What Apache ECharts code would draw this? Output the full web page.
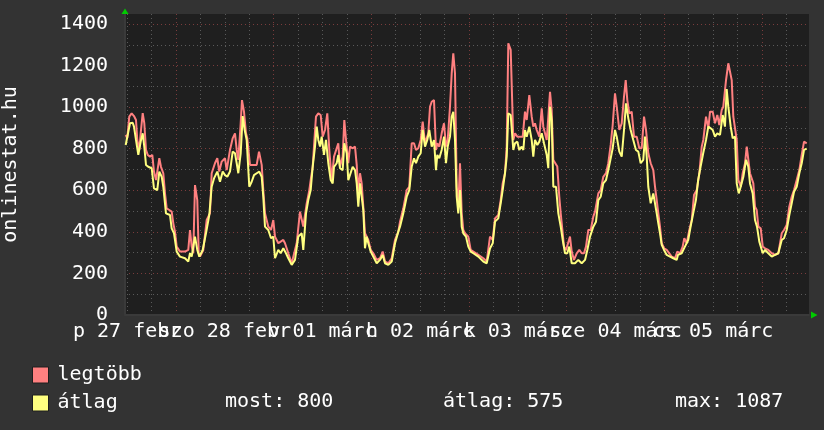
<!DOCTYPE html>
<html><head><meta charset="utf-8">
<script src="https://cdn.jsdelivr.net/npm/echarts@6/dist/echarts.min.js"></script>
<style>html,body{margin:0;padding:0;background:#333333;}#c{width:824px;height:430px;}</style>
</head><body><div id="c"></div>
<script>
// x values are hours since 2009-02-27 00:00
const dayLabels = ['p 27 febr','szo 28 febr','v 01 márc','h 02 márc','k 03 márc','sze 04 márc','cs 05 márc'];
const dayLabelHours = [12,36,60,84,108,132,156];
const minorGridHours = [12,18,24,30,36,42,48,54,60,66,72,78,84,90,96,102,108,114,120,126,132,138,144,150,156,162,168,174];
const majorGridHours = [24,48,72,96,120,144,168];
const seriesNames = ['legtöbb','átlag'];
const statNames = ['most','átlag','max'];
const statValues = [800,575,1087];
const axisTitle = 'onlinestat.hu';

const legtobbPoints = [[11.64,866],[12.03,851],[12.52,954],[13.11,970],[13.68,957],[14.17,938],[14.49,842],[14.98,794],[15.33,875],[15.82,971],[16.21,923],[16.63,794],[17.05,770],[17.61,762],[18.18,770],[18.59,690],[19.09,649],[19.5,649],[19.9,754],[20.31,713],[20.88,682],[21.3,585],[21.71,513],[22.35,505],[22.94,497],[23.34,441],[23.75,401],[24.17,329],[24.98,305],[26.21,305],[27.02,313],[27.44,409],[27.86,329],[28.25,297],[28.67,625],[29.23,553],[29.58,297],[29.9,281],[30.71,313],[31.54,457],[32.36,490],[32.77,682],[33.58,730],[34.15,754],[34.64,690],[35.23,738],[36.04,754],[36.46,697],[37.27,794],[37.93,850],[38.5,874],[38.92,794],[39.31,746],[39.9,922],[40.22,1034],[40.71,978],[41.2,874],[41.52,850],[42.18,722],[43.17,722],[43.83,722],[44.4,786],[45.06,722],[45.45,601],[45.87,489],[46.68,425],[47.35,409],[47.91,457],[48.33,377],[49.14,345],[49.73,353],[50.37,361],[50.79,345],[51.6,297],[52.43,249],[53.66,345],[54.47,497],[54.89,489],[55.28,425],[56.12,537],[56.76,601],[57.1,649],[57.59,713],[57.91,810],[58.4,954],[58.97,970],[59.56,962],[60.05,858],[60.62,890],[61.18,970],[61.67,794],[62.26,649],[62.83,762],[63.32,762],[63.88,826],[64.3,713],[64.96,762],[65.36,938],[65.78,842],[66.34,730],[66.76,810],[67.42,802],[67.99,810],[68.41,722],[68.8,593],[69.22,682],[69.63,633],[70.03,521],[70.44,393],[70.86,401],[71.26,361],[71.85,313],[72.48,297],[73.32,265],[74.13,273],[74.79,305],[75.36,257],[76.17,249],[77.01,273],[77.82,361],[78.63,401],[79.05,449],[79.86,513],[80.69,601],[81.33,617],[81.92,826],[82.49,826],[82.98,794],[83.54,802],[84.13,842],[84.62,930],[85.19,826],[86.0,874],[86.42,1002],[86.84,1026],[87.4,1034],[87.89,794],[88.21,826],[88.7,810],[89.29,874],[89.86,922],[90.35,810],[90.77,842],[91.33,1002],[91.75,1162],[92.14,1259],[92.56,1162],[92.98,617],[93.37,521],[93.79,730],[94.21,489],[94.6,409],[95.02,393],[95.83,377],[96.42,313],[97.06,305],[98.29,289],[99.52,273],[100.35,257],[101.16,377],[101.83,361],[102.39,465],[103.2,481],[103.79,553],[104.28,633],[104.85,682],[105.27,810],[105.66,1307],[106.25,1275],[106.69,1275],[106.89,842],[107.31,874],[107.87,858],[108.53,858],[109.2,858],[109.76,978],[110.18,938],[110.82,1058],[111.41,954],[111.8,906],[112.22,922],[112.64,890],[113.28,858],[113.87,994],[114.26,906],[114.68,874],[115.1,842],[115.49,842],[115.91,1074],[116.32,986],[116.72,746],[117.14,738],[117.7,714],[118.19,569],[118.54,489],[119.03,393],[119.35,329],[119.84,313],[120.16,321],[120.82,377],[121.24,305],[121.8,265],[122.47,297],[123.11,313],[123.7,297],[124.26,297],[124.75,329],[125.32,409],[125.91,409],[126.55,473],[126.97,497],[127.78,585],[128.36,601],[129.0,665],[129.67,682],[130.23,730],[130.82,818],[131.31,914],[131.88,1066],[132.3,1002],[132.94,890],[133.53,922],[134.09,1050],[134.51,1130],[134.9,1034],[135.39,970],[135.98,978],[136.55,858],[137.21,858],[137.85,802],[138.44,802],[139.01,954],[139.5,890],[140.06,778],[140.65,730],[141.29,697],[141.71,617],[142.13,553],[142.52,489],[142.94,425],[143.36,345],[143.92,321],[144.58,313],[145.22,297],[145.81,281],[146.62,273],[147.19,305],[147.85,297],[148.51,329],[148.91,369],[149.5,345],[150.14,409],[150.73,457],[151.29,577],[151.96,601],[152.6,682],[153.19,810],[153.58,842],[154.24,954],[154.81,898],[155.23,978],[155.89,978],[156.45,922],[157.02,962],[157.51,914],[158.1,986],[158.49,1002],[159.16,1130],[159.72,1211],[160.14,1211],[160.56,1130],[160.95,954],[161.37,954],[161.79,842],[162.18,650],[162.77,617],[163.26,682],[163.83,730],[164.25,810],[164.64,810],[165.05,682],[165.87,633],[166.28,521],[166.7,505],[167.1,425],[167.69,417],[168.18,329],[168.74,321],[169.55,313],[170.39,297],[171.2,289],[172.01,297],[172.85,393],[173.41,409],[174.07,433],[174.71,521],[175.3,569],[175.87,601],[176.53,649],[177.17,697],[177.76,770],[178.33,834],[178.99,826]];

const atlagPoints = [[11.64,818],[12.13,813],[12.7,922],[13.36,925],[13.68,906],[14.17,842],[14.74,770],[15.33,834],[15.82,874],[16.21,810],[16.63,722],[17.19,713],[18.03,706],[18.59,609],[19.4,601],[19.9,690],[20.49,665],[20.88,617],[21.54,489],[22.53,481],[22.94,417],[23.51,393],[24.17,305],[24.98,281],[26.21,273],[27.02,257],[27.44,297],[27.86,281],[28.67,377],[29.23,313],[29.73,281],[30.56,313],[31.37,393],[32.18,481],[32.77,617],[33.34,657],[34.15,690],[34.81,641],[35.48,690],[36.04,673],[36.61,665],[37.27,690],[37.93,786],[38.5,778],[38.92,730],[39.31,682],[39.9,778],[40.39,957],[40.88,890],[41.37,842],[42.01,617],[42.6,641],[43.17,673],[43.83,682],[44.47,690],[45.06,665],[45.45,569],[45.87,425],[46.68,409],[47.35,369],[47.91,377],[48.33,273],[49.14,313],[49.73,297],[50.37,321],[51.03,297],[51.6,273],[52.43,241],[53.24,265],[54.05,377],[54.89,393],[55.28,313],[55.95,489],[56.51,553],[57.1,601],[57.59,713],[58.16,810],[58.58,906],[58.97,842],[59.39,810],[59.8,858],[60.37,770],[60.86,842],[61.43,730],[62.02,649],[62.51,633],[62.83,713],[63.49,730],[63.88,770],[64.3,706],[64.96,697],[65.36,826],[65.95,778],[66.34,649],[66.76,649],[67.42,713],[67.99,697],[68.41,633],[68.8,521],[69.22,633],[69.63,569],[70.03,505],[70.44,321],[70.86,377],[71.26,345],[71.85,305],[72.48,281],[73.32,249],[74.13,265],[74.79,289],[75.36,249],[76.17,241],[77.01,257],[77.82,345],[78.63,401],[79.05,425],[79.86,489],[80.69,569],[81.33,601],[81.92,713],[82.49,754],[82.98,730],[83.54,762],[84.13,778],[84.62,890],[85.19,810],[85.75,842],[86.24,890],[86.84,810],[87.4,842],[87.89,697],[88.21,770],[88.7,754],[89.29,794],[89.86,858],[90.35,730],[90.77,810],[91.33,858],[91.75,954],[92.14,978],[92.56,842],[92.98,569],[93.37,489],[93.79,601],[94.21,425],[94.6,393],[95.26,377],[95.83,329],[96.42,305],[97.06,297],[98.29,281],[99.52,257],[100.35,249],[101.16,320],[101.83,345],[102.39,449],[103.2,465],[103.79,537],[104.28,601],[104.85,682],[105.27,762],[105.66,970],[106.25,962],[106.69,954],[106.89,794],[107.31,826],[107.87,834],[108.36,794],[108.95,810],[109.35,794],[109.76,890],[110.18,858],[110.82,906],[111.41,842],[111.8,762],[112.22,842],[112.79,818],[113.28,834],[113.87,874],[114.43,826],[115.1,770],[115.49,706],[115.91,1002],[116.32,938],[116.72,617],[117.38,617],[117.95,489],[118.54,425],[119.03,361],[119.6,297],[120.16,297],[120.65,329],[121.24,249],[122.05,249],[122.86,265],[123.7,249],[124.51,265],[125.08,313],[125.74,377],[126.55,425],[127.21,449],[127.78,553],[128.36,569],[129.0,633],[129.67,649],[130.23,697],[130.82,754],[131.31,802],[131.88,890],[132.3,858],[132.94,786],[133.53,762],[134.09,890],[134.58,1018],[135.15,946],[135.73,890],[136.37,842],[137.03,794],[137.6,786],[138.19,730],[138.83,746],[139.25,858],[139.67,762],[140.06,617],[140.65,537],[141.29,585],[141.71,585],[142.13,489],[142.52,441],[142.94,393],[143.36,337],[143.92,313],[144.58,289],[145.39,281],[146.2,273],[147.03,265],[147.35,289],[148.26,297],[149.06,329],[149.87,361],[150.46,425],[151.1,489],[151.76,553],[152.32,650],[152.91,713],[153.55,778],[154.24,842],[154.81,906],[155.39,898],[155.89,890],[156.45,858],[157.02,874],[157.68,866],[158.34,962],[158.9,906],[159.32,1087],[159.72,1002],[160.31,906],[160.8,850],[161.37,858],[161.79,633],[162.28,585],[162.77,617],[163.42,665],[164.08,746],[164.64,713],[165.05,633],[165.71,585],[166.28,457],[166.77,425],[167.34,353],[168.18,297],[168.74,313],[169.55,297],[170.39,281],[171.2,289],[172.01,297],[172.85,361],[173.41,369],[174.07,409],[174.71,481],[175.3,537],[175.87,593],[176.53,617],[177.17,682],[177.76,730],[178.33,794],[178.99,800]];

const FONT = '"DejaVu Sans Mono", monospace';
const RED = '#ff8080', YEL = '#ffff80';
const MINOR = '#5a5a5a', MAJOR = '#7a3c3c';

// labels split over two identical grids so neighbouring labels may overlap like the original
const labelsEven = dayLabelHours.filter((h, i) => i % 2 === 0);
const labelsOdd = dayLabelHours.filter((h, i) => i % 2 === 1);
function dayFormatter(v){ const i = dayLabelHours.indexOf(Math.round(v)); return i >= 0 ? dayLabels[i] : ''; }
const labelStyle = {show:true, showMinLabel:true, showMaxLabel:true, hideOverlap:false,
  color:'#ffffff', fontFamily:FONT, fontSize:20, margin:7, formatter:dayFormatter};

const chart = echarts.init(document.getElementById('c'), null, {renderer:'canvas'});
const xCommon = {type:'value', min:11.47, max:179.55};
const gridCommon = {left:125, right:15, top:14, bottom:115, borderWidth:0, containLabel:false, outerBoundsMode:'none'};
chart.setOption({
  backgroundColor:'#333333',
  animation:false,
  grid:[
    Object.assign({}, gridCommon, {show:true, backgroundColor:'#1f1f1f'}),
    Object.assign({}, gridCommon, {show:false})
  ],
  legend:{
    orient:'vertical', left:32, top:365, padding:0, itemWidth:16, itemHeight:16, itemGap:8,
    selectedMode:false, icon:'rect',
    itemStyle:{borderColor:'#1e1e1e', borderWidth:1},
    textStyle:{color:'#ffffff', fontFamily:FONT, fontSize:20, lineHeight:16, padding:[0,0,0,4]},
    data:seriesNames
  },
  xAxis:[
    Object.assign({}, xCommon, {
      gridIndex:0, position:'bottom',
      axisLine:{show:true, lineStyle:{color:'#3a3a3a', width:2}},
      axisTick:{show:false, customValues:minorGridHours},
      splitLine:{show:true, lineStyle:{color:MINOR, width:1, type:[1,3]}},
      axisLabel:Object.assign({}, labelStyle, {customValues:labelsEven})
    }),
    Object.assign({}, xCommon, {
      gridIndex:0, position:'top',
      axisLine:{show:false}, axisLabel:{show:false},
      axisTick:{show:false, customValues:majorGridHours},
      splitLine:{show:true, lineStyle:{color:MAJOR, width:1, type:[1,3]}}
    }),
    Object.assign({}, xCommon, {
      gridIndex:1, position:'bottom',
      axisLine:{show:false}, splitLine:{show:false},
      axisTick:{show:false, customValues:labelsOdd},
      axisLabel:Object.assign({}, labelStyle, {customValues:labelsOdd})
    })
  ],
  yAxis:[
    {type:'value', gridIndex:0, min:0, max:1448, interval:100, position:'left',
      axisLine:{show:true, lineStyle:{color:'#3a3a3a', width:2}},
      axisTick:{show:false}, axisLabel:{show:false},
      splitLine:{show:true, showMaxLine:false, lineStyle:{color:MINOR, width:1, type:[1,3]}}
    },
    {type:'value', gridIndex:0, min:0, max:1448, interval:200, position:'left',
      axisLine:{show:false}, axisTick:{show:false},
      name:axisTitle, nameLocation:'middle', nameGap:104, nameRotate:90,
      nameTextStyle:{color:'#ffffff', fontFamily:FONT, fontSize:20},
      axisLabel:{show:true, showMaxLabel:false, color:'#ffffff', fontFamily:FONT, fontSize:20, margin:17,
        formatter:function(v){ return String(v); }},
      splitLine:{show:true, showMaxLine:false, showMinLine:false, lineStyle:{color:MAJOR, width:1, type:[1,3]}}
    },
    {type:'value', gridIndex:1, min:0, max:1448, show:false}
  ],
  series:[
    {name:seriesNames[0], type:'line', xAxisIndex:0, yAxisIndex:0, data:legtobbPoints, showSymbol:false, symbol:'none',
      lineStyle:{color:RED, width:2}, itemStyle:{color:RED}, emphasis:{disabled:true}, z:3},
    {name:seriesNames[1], type:'line', xAxisIndex:0, yAxisIndex:0, data:atlagPoints, showSymbol:false, symbol:'none',
      lineStyle:{color:YEL, width:2}, itemStyle:{color:YEL}, emphasis:{disabled:true}, z:4}
  ],
  graphic:[
    {type:'polygon', shape:{points:[[125,8.5],[121.5,14],[128.5,14]]}, style:{fill:'#00cc00'}, z:10},
    {type:'polygon', shape:{points:[[817.5,315],[811,311.5],[811,318.5]]}, style:{fill:'#00cc00'}, z:10},
    {type:'text', x:225, y:402, style:{text:statNames[0]+': '+statValues[0], fill:'#ffffff', font:'20px '+FONT, textVerticalAlign:'middle', verticalAlign:'middle'}},
    {type:'text', x:443, y:402, style:{text:statNames[1]+': '+statValues[1], fill:'#ffffff', font:'20px '+FONT, textVerticalAlign:'middle', verticalAlign:'middle'}},
    {type:'text', x:675, y:402, style:{text:statNames[2]+': '+statValues[2], fill:'#ffffff', font:'20px '+FONT, textVerticalAlign:'middle', verticalAlign:'middle'}}
  ]
});
</script></body></html>
